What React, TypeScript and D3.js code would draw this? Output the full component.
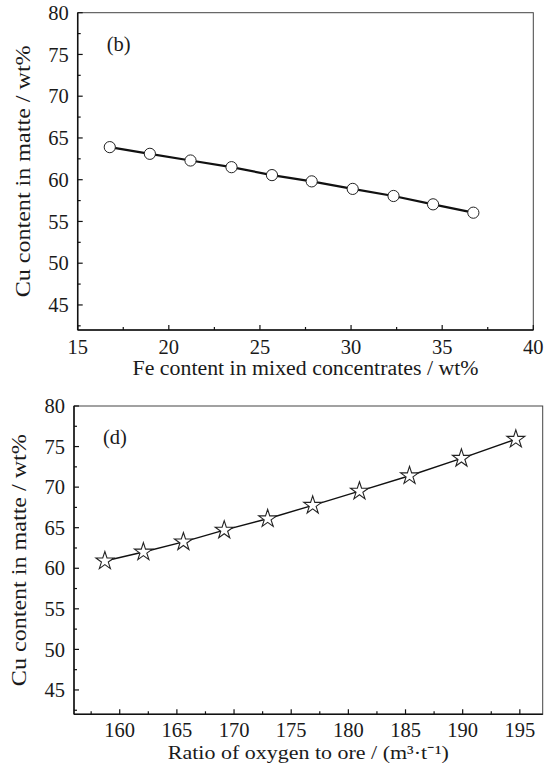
import React from "react";
import * as d3 from "d3";

// Panel (b)
const feContent = [16.76, 18.96, 21.19, 23.44, 25.66, 27.84, 30.09, 32.33, 34.5, 36.71];
const cuMatteB = [63.9, 63.1, 62.3, 61.5, 60.55, 59.8, 58.9, 58.05, 57.05, 56.05];
// Panel (d)
const oxygenRatio = [158.7, 162.07, 165.57, 169.14, 172.94, 176.88, 180.97, 185.35, 189.89, 194.65];
const cuMatteD = [60.9, 62.0, 63.25, 64.7, 66.1, 67.76, 69.5, 71.4, 73.55, 75.9];

const yTicks = [45, 50, 55, 60, 65, 70, 75, 80];
const yMinor = [42.5, 47.5, 52.5, 57.5, 62.5, 67.5, 72.5, 77.5];
const xTicksB = [15, 20, 25, 30, 35, 40];
const xMinorB = [17.5, 22.5, 27.5, 32.5, 37.5];
const xTicksD = [160, 165, 170, 175, 180, 185, 190, 195];
const xMinorD = [157.5, 162.5, 167.5, 172.5, 177.5, 182.5, 187.5, 192.5];

const FONT = "'Liberation Serif', 'Times New Roman', serif";

type PanelProps = {
  x0: number; x1: number; y0: number; y1: number;
  xDomain: [number, number]; yDomain: [number, number];
  xTicks: number[]; xMinor: number[];
  xs: number[]; ys: number[];
  marker: "circle" | "star";
  label: string;
  xTitle: string;
  xTitleLen: number;
  xTitleY: number;
  xTitleSize: number;
  xTickDy: number;
  lineWidth: number;
};

function Panel(p: PanelProps) {
  const x = d3.scaleLinear().domain(p.xDomain).range([p.x0, p.x1]);
  const y = d3.scaleLinear().domain(p.yDomain).range([p.y1, p.y0]);
  const pts = p.xs.map((v, i) => [x(v), y(p.ys[i])] as [number, number]);
  const line = d3.line()(pts) || "";
  const star = d3.symbol().type(d3.symbolStar).size(100)() || "";
  const cy = (p.y0 + p.y1) / 2;
  const cx = (p.x0 + p.x1) / 2;
  return (
    <g fontFamily={FONT} fill="#1a1a1a">
      <rect x={p.x0} y={p.y0} width={p.x1 - p.x0} height={p.y1 - p.y0} fill="none" stroke="#444" strokeWidth={1} />
      <line x1={p.x0} x2={p.x0} y1={p.y0} y2={p.y1} stroke="#111" strokeWidth={1.5} />
      <line x1={p.x0} x2={p.x1} y1={p.y1} y2={p.y1} stroke="#111" strokeWidth={1.5} />
      {yTicks.map((t) => (
        <g key={"yt" + t}>
          <line x1={p.x0} x2={p.x0 + 5} y1={y(t)} y2={y(t)} stroke="#111" strokeWidth={1.2} />
          <text x={p.x0 - 9} y={y(t)} dy="0.35em" textAnchor="end" fontSize={20.5}>{t}</text>
        </g>
      ))}
      {yMinor.map((t) => (
        <line key={"ym" + t} x1={p.x0} x2={p.x0 + 3} y1={y(t)} y2={y(t)} stroke="#111" strokeWidth={1.2} />
      ))}
      {p.xTicks.map((t) => (
        <g key={"xt" + t}>
          <line x1={x(t)} x2={x(t)} y1={p.y1} y2={p.y1 - 5} stroke="#111" strokeWidth={1.2} />
          <text x={x(t)} y={p.y1 + p.xTickDy} textAnchor="middle" fontSize={20.5}>{t}</text>
        </g>
      ))}
      {p.xMinor.map((t) => (
        <line key={"xm" + t} x1={x(t)} x2={x(t)} y1={p.y1} y2={p.y1 - 3} stroke="#111" strokeWidth={1.2} />
      ))}
      <text x={p.x0 + 29} y={p.y0 + 38} fontSize={20.5}>{p.label}</text>
      <text
        transform={`translate(${p.x0 - 48},${cy}) rotate(-90)`}
        textAnchor="middle"
        fontSize={20.5}
        textLength={252}
        lengthAdjust="spacingAndGlyphs"
      >
        Cu content in matte / wt%
      </text>
      <text
        x={cx}
        y={p.xTitleY}
        textAnchor="middle"
        fontSize={p.xTitleSize}
        textLength={p.xTitleLen}
        lengthAdjust="spacingAndGlyphs"
      >
        {p.xTitle}
      </text>
      <path d={line} fill="none" stroke="#111" strokeWidth={p.lineWidth} />
      {pts.map(([px, py], i) =>
        p.marker === "circle" ? (
          <circle key={i} cx={px} cy={py} r={5.6} fill="#fff" stroke="#222" strokeWidth={1} />
        ) : (
          <path key={i} d={star} transform={`translate(${px},${py})`} fill="#fff" stroke="#222" strokeWidth={1.1} />
        )
      )}
    </g>
  );
}

export default function App() {
  return (
    <svg width={548} height={771} style={{ position: "absolute", left: 0, top: 0, background: "#fff" }}>
      <rect width={548} height={771} fill="#fff" />
      <Panel
        x0={77.7} x1={533.3} y0={12.7} y1={330}
        xDomain={[15, 40]} yDomain={[42, 80]}
        xTicks={xTicksB} xMinor={xMinorB}
        xs={feContent} ys={cuMatteB}
        marker="circle" label="(b)"
        xTitle="Fe content in mixed concentrates / wt%"
        xTitleLen={346}
        xTitleY={375}
        xTitleSize={20.5}
        xTickDy={24}
        lineWidth={2.2}
      />
      <Panel
        x0={74} x1={542.7} y0={406} y1={714.3}
        xDomain={[156, 197]} yDomain={[42, 80]}
        xTicks={xTicksD} xMinor={xMinorD}
        xs={oxygenRatio} ys={cuMatteD}
        marker="star" label="(d)"
        xTitle="Ratio of oxygen to ore / (m³·t⁻¹)"
        xTitleLen={281}
        xTitleY={759}
        xTitleSize={19.5}
        xTickDy={22.5}
        lineWidth={1.4}
      />
    </svg>
  );
}
